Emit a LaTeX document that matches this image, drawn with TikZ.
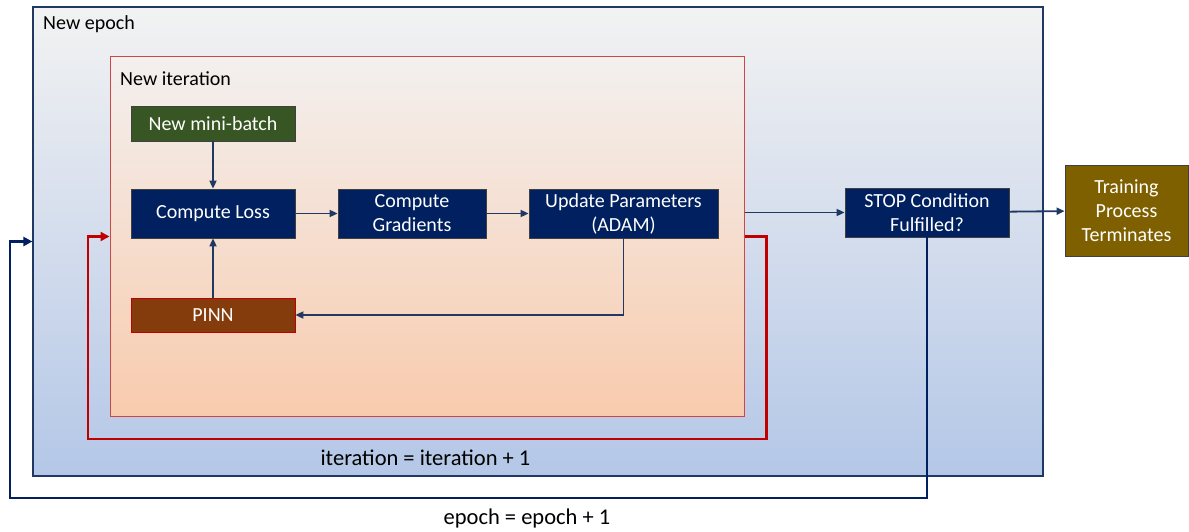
\documentclass[tikz,border=0pt]{standalone}
\usepackage{fontspec}
\setmainfont{Carlito}
\usetikzlibrary{arrows.meta}
\definecolor{boxnavy}{HTML}{002060}
\definecolor{linknavy}{HTML}{203864}
\definecolor{batchgreen}{HTML}{375623}
\definecolor{pinnbrown}{HTML}{843C0C}
\definecolor{termgold}{HTML}{7F6000}
\definecolor{loopred}{HTML}{C00000}
\definecolor{iterred}{HTML}{D04545}

\begin{document}
\begin{tikzpicture}[x=1pt,y=-1pt,
	every node/.style={font=\fontsize{20}{24}\selectfont},
	procbox/.style={draw=black!75,line width=0.8pt,fill=boxnavy,text=white,align=center,inner sep=0pt},
	flow/.style={draw=linknavy,line width=1.8pt,-{Triangle[length=8pt,width=7pt]}},
	looparrow/.style={line width=2.8pt,-{Triangle[length=9pt,width=9pt]}}]
	\useasboundingbox (0,0) rectangle (1189,532);
	% containers
	\node[draw=linknavy,line width=1.2pt,top color=black!5,bottom color={rgb,255:red,180;green,199;blue,231},
		minimum width=1010pt,minimum height=469pt,inner sep=0pt] (epoch) at (538,241.5) {};
	\node[anchor=west,inner sep=0pt] (eptitle) at (43,24) {New epoch};
	\node[draw=iterred,line width=1pt,top color={rgb,255:red,243;green,240;blue,239},bottom color={rgb,255:red,248;green,203;blue,173},
		minimum width=634pt,minimum height=359pt,inner sep=0pt] (iter) at (427,236.5) {};
	\node[anchor=west,inner sep=0pt] (ittitle) at (120,79) {New iteration};
	% steps
	\node[procbox,fill=batchgreen,minimum width=164pt,minimum height=35pt] (batch) at (213,123.5) {New mini-batch};
	\node[procbox,minimum width=164pt,minimum height=49pt] (loss) at (213,213.5) {Compute Loss};
	\node[procbox,minimum width=148pt,minimum height=49pt] (grad) at (412,213.5) {Compute\\Gradients};
	\node[procbox,minimum width=189pt,minimum height=49pt] (update) at (623.5,213.5) {Update Parameters\\(ADAM)};
	\node[procbox,draw=loopred,fill=pinnbrown,minimum width=164pt,minimum height=34pt] (pinn) at (213,315) {PINN};
	\node[procbox,minimum width=164pt,minimum height=49pt] (stop) at (927,212.5) {STOP Condition\\Fulfilled?};
	\node[procbox,fill=termgold,minimum width=123pt,minimum height=91pt] (term) at (1126.5,210.5) {Training\\Process\\Terminates};
	% connectors
	\draw[flow] (batch) -- (loss);
	\draw[flow] (pinn) -- (loss);
	\draw[flow] (loss) -- (grad);
	\draw[flow] (grad) -- (update);
	\draw[flow] (update.south) |- (pinn.east);
	\draw[flow] (iter.east |- stop.west) -- (stop.west);
	\draw[flow] (stop) -- (term);
	% loops
	\coordinate (itcorner) at (88,439);
	\coordinate (epcorner) at (10,498);
	\draw[looparrow,loopred] (iter.east) -- ++(22,0) |- (itcorner) |- (iter.west);
	\draw[looparrow,boxnavy] (stop.south) |- (epcorner) |- (epoch.west);
	\node[font=\fontsize{22.5}{26}\selectfont] (itlabel) at (425.5,458) {iteration = iteration + 1};
	\node[font=\fontsize{22.5}{26}\selectfont] (eplabel) at (527,518) {epoch = epoch + 1};
\end{tikzpicture}
\end{document}
